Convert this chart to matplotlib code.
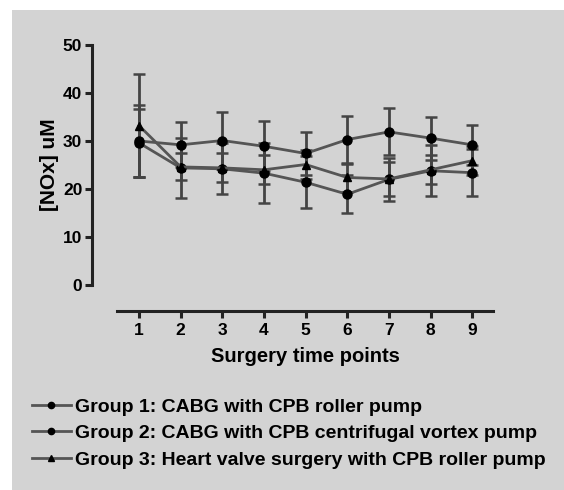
import numpy as np
import matplotlib.pyplot as plt
from matplotlib.patches import Rectangle
from matplotlib.lines import Line2D

plt.rcParams['font.family'] = ['Liberation Sans', 'DejaVu Sans']
plt.rcParams['font.weight'] = 'bold'

time_points = [1, 2, 3, 4, 5, 6, 7, 8, 9]

# group 1: CABG roller pump
g1_mean = [29.6, 24.4, 24.2, 23.3, 21.4, 18.9, 22.0, 23.8, 23.4]
g1_err = [7.0, 6.2, 5.3, 6.3, 5.4, 4.0, 4.5, 5.3, 4.9]
# group 2: CABG centrifugal vortex pump
g2_mean = [30.0, 29.2, 30.1, 28.9, 27.4, 30.3, 31.9, 30.6, 29.2]
g2_err = [7.5, 4.7, 5.9, 5.2, 4.4, 5.0, 4.9, 4.5, 4.1]
# group 3: heart valve surgery roller pump
g3_mean = [33.2, 24.6, 24.4, 24.0, 25.1, 22.4, 22.1, 24.0, 25.9]
g3_err = [10.7, 2.8, 3.0, 3.0, 3.0, 3.0, 3.5, 3.0, 3.0]

labels = ['Group 1: CABG with CPB roller pump',
          'Group 2: CABG with CPB centrifugal vortex pump',
          'Group 3: Heart valve surgery with CPB roller pump']

fig = plt.figure(figsize=(5.64, 4.90), dpi=100)
fig.patch.set_facecolor('white')
bg = Rectangle((12 / 564, 0), 1, 1 - 10 / 490, transform=fig.transFigure,
               facecolor='#d3d3d3', edgecolor='none', zorder=-10)
fig.add_artist(bg)

ax = fig.add_axes([117 / 564, 1 - 285 / 490, 376 / 564, 240 / 490])
ax.set_facecolor('none')
ax.set_zorder(1)

line_c = '#555555'
for mean, err, mk, ms in [(g1_mean, g1_err, 'o', 6.5), (g2_mean, g2_err, 'o', 6.5),
                          (g3_mean, g3_err, '^', 6)]:
    ax.errorbar(time_points, mean, yerr=err, fmt=mk, color=line_c, ecolor='#444444',
                elinewidth=2, capsize=4, capthick=1.8, markersize=ms,
                markerfacecolor='black', markeredgecolor='black', linewidth=2, linestyle='-')

ax.set_xlim(0.47, 9.5)
ax.set_ylim(0, 50)
ax.set_yticks([0, 10, 20, 30, 40, 50])
ax.set_xticks(time_points)
for s in ['top', 'right']:
    ax.spines[s].set_visible(False)
# offsets in points (25 px / 26 px)
ax.spines['left'].set_position(('outward', 18))
ax.spines['bottom'].set_position(('outward', 18.7))
for s in ['left', 'bottom']:
    ax.spines[s].set_linewidth(2.2)
    ax.spines[s].set_color('#222222')
ax.tick_params(width=2.2, length=5, color='#222222', labelsize=12.5, pad=2)
ax.tick_params(axis='x', pad=4)
ax.set_ylabel('[NOx] uM', fontsize=15, fontweight='bold', labelpad=3)
ax.set_xlabel('Surgery time points', fontsize=14.5, fontweight='bold', labelpad=6)

handles = [Line2D([], [], color=line_c, lw=2, marker=m, markersize=4.5,
                  markerfacecolor='black', markeredgecolor='black')
           for m in ['o', 'o', '^']]
fig.legend(handles, labels, loc='upper left', bbox_to_anchor=(0.043, 0.203),
           frameon=False, fontsize=14, handlelength=2.0, handletextpad=0.2,
           labelspacing=0.45, borderaxespad=0)

fig.savefig('out.png', dpi=100)
